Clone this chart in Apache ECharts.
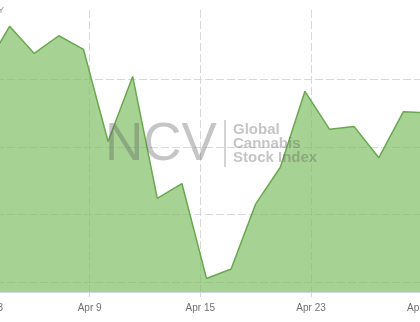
<!DOCTYPE html>
<html>
<head>
<meta charset="utf-8">
<script src="https://cdn.jsdelivr.net/npm/echarts@6/dist/echarts.min.js"></script>
<style>
html,body{margin:0;padding:0;background:#fff;}
#chart{width:420px;height:322px;}
</style>
</head>
<body>
<div id="chart"></div>
<script>
// Trading days (ordinal x axis: index in this list)
const dates = ['Apr 2','Apr 3','Apr 4','Apr 5','Apr 8','Apr 9','Apr 10','Apr 11','Apr 12','Apr 15','Apr 16','Apr 17','Apr 18','Apr 22','Apr 23','Apr 24','Apr 25','Apr 26','Apr 29'];
// Index level (estimated)
const indexValues = [135.8, 138.9, 136.9, 138.2, 137.2, 130.4, 135.2, 126.2, 127.3, 120.3, 121.0, 125.8, 128.5, 134.1, 131.3, 131.5, 129.2, 132.6, 132.5];
// X tick labels and their positions on the ordinal (trading-day index) scale
const xTickLabels = ['Apr 3', 'Apr 9', 'Apr 15', 'Apr 23', 'Apr 29'];
const xTickPositions = [0.25, 4.25, 8.75, 13.25, 17.75];
// Y grid values
const yTickValues = [120, 125, 130, 135];
const yMin = 119.3, yMax = 140.1;

const chart = echarts.init(document.getElementById('chart'), null, {renderer: 'canvas'});
const seriesData = indexValues.map((v, i) => [i, v]);
const wmColor = 'rgba(90,90,90,0.35)';

chart.setOption({
  animation: false,
  backgroundColor: '#ffffff',
  grid: {left: -15, top: 10, width: 443, height: 282, containLabel: false, outerBoundsMode: 'none'},
  xAxis: {
    type: 'value',
    min: 0,
    max: dates.length - 1,
    axisLine: {show: true, lineStyle: {color: '#ccd6eb', width: 1}},
    axisTick: {show: true, length: 5, lineStyle: {color: '#ccd6eb'}, customValues: xTickPositions},
    axisLabel: {
      show: true,
      customValues: xTickPositions,
      margin: 11,
      color: '#707070',
      fontSize: 10,
      hideOverlap: false,
      fontFamily: 'Liberation Sans, Arial, sans-serif',
      formatter: function (val) {
        let best = 0, bd = Infinity;
        xTickPositions.forEach((p, i) => { const d = Math.abs(p - val); if (d < bd) { bd = d; best = i; } });
        return xTickLabels[best];
      }
    },
    splitLine: {show: true, lineStyle: {color: '#d9d9d9', width: 1, type: [8, 3]}}
  },
  yAxis: {
    type: 'value',
    min: yMin,
    max: yMax,
    axisLine: {show: false},
    axisTick: {show: false, customValues: yTickValues},
    axisLabel: {show: false, customValues: yTickValues},
    splitLine: {show: true, lineStyle: {color: '#d9d9d9', width: 1, type: [8, 3]}}
  },
  series: [{
    type: 'line',
    data: seriesData,
    symbol: 'none',
    smooth: false,
    lineStyle: {color: '#6aa84f', width: 1.5},
    areaStyle: {color: 'rgb(124,190,97)', opacity: 0.68, origin: 'start'},
    z: 2
  }],
  graphic: [
    {type: 'text', z: 100, x: 4, y: 11, style: {text: 'DAILY', align: 'right', verticalAlign: 'middle', fontSize: 9, fill: '#999', fontFamily: 'Liberation Sans, Arial, sans-serif'}},
    {type: 'text', z: 100, x: 105, y: 145, style: {text: 'NCV', align: 'left', verticalAlign: 'middle', fontSize: 53, fill: wmColor, fontFamily: 'Liberation Sans, Arial, sans-serif'}},
    {type: 'line', z: 100, shape: {x1: 225, y1: 120, x2: 225, y2: 167}, style: {stroke: wmColor, lineWidth: 1.5}},
    {type: 'text', z: 100, x: 233, y: 130, style: {text: 'Global', align: 'left', verticalAlign: 'middle', fontSize: 15, fontWeight: 'bold', fill: wmColor, fontFamily: 'Liberation Sans, Arial, sans-serif'}},
    {type: 'text', z: 100, x: 233, y: 144, style: {text: 'Cannabis', align: 'left', verticalAlign: 'middle', fontSize: 15, fontWeight: 'bold', fill: wmColor, fontFamily: 'Liberation Sans, Arial, sans-serif'}},
    {type: 'text', z: 100, x: 233, y: 158, style: {text: 'Stock Index', align: 'left', verticalAlign: 'middle', fontSize: 15, fontWeight: 'bold', fill: wmColor, fontFamily: 'Liberation Sans, Arial, sans-serif'}}
  ]
});
</script>
</body>
</html>
